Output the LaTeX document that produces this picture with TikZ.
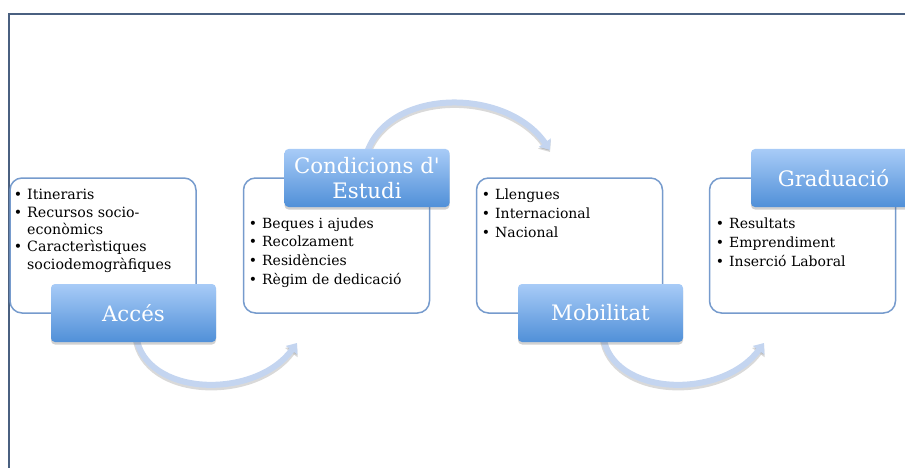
\documentclass[tikz,border=0pt]{standalone}
\usepackage{fontspec}
\newfontfamily\dser{DejaVu Serif}
\usetikzlibrary{arrows.meta,shadows}
\definecolor{framec}{RGB}{74,96,128}
\definecolor{boxline}{RGB}{118,155,205}
\definecolor{labtop}{RGB}{168,203,247}
\definecolor{labbot}{RGB}{80,144,216}
\definecolor{arcc}{RGB}{196,213,240}
\tikzset{
  txtbox/.style={draw=boxline, line width=1.5pt, rounded corners=12pt, fill=white,
    minimum width=186pt, minimum height=135pt, inner sep=0pt},
  labbox/.style={rounded corners=4pt, top color=labtop, bottom color=labbot,
    minimum width=165pt, minimum height=58pt, inner sep=0pt, text=white,
    font=\dser\fontsize{21.3}{25}\selectfont, align=center,
    drop shadow={shadow xshift=0pt, shadow yshift=-2.5pt, opacity=0.3, fill=black!60}},
  body/.style={anchor=base west, inner sep=0pt, font=\dser\fontsize{14}{17}\selectfont},
  bodysm/.style={body, font=\dser\fontsize{14.2}{17}\selectfont},
  flow/.style={arcc, line width=6pt, -{Triangle[width=14pt,length=9pt]}},
  flowshadow/.style={black, opacity=0.15, line width=7pt, -{Triangle[width=15pt,length=9.5pt]},
    transform canvas={yshift=-2pt}},
}
\newcommand\bul{\makebox[0pt][r]{•\hspace{5pt}}}
\begin{document}
\begin{tikzpicture}[x=1pt,y=-1pt]
\useasboundingbox (0,0) rectangle (905,468);
\clip (0,0) rectangle (905,468);
% frame
\draw[framec, line width=2.2pt] (9,470) -- (9,14) -- (906,14);
% text boxes
\node[txtbox] (b1) at (103,245.5) {};
\node[txtbox] (b2) at (336.5,245.5) {};
\node[txtbox] (b3) at (569.5,245.5) {};
\node[txtbox] (b4) at (802.5,245.5) {};
% box texts
\foreach \t [count=\k] in {\bul Itineraris, \bul Recursos socio-, econòmics, \bul Caracterìstiques, sociodemogràfiques}
  \node[bodysm] (ta\k) at (27,{200+(\k-1)*17.3}) {\t};
\foreach \t [count=\k] in {\bul Beques i ajudes, \bul Recolzament, \bul Residències, \bul Règim de dedicació}
  \node[body] (tb\k) at (262,{228+(\k-1)*18.8}) {\t};
\foreach \t [count=\k] in {\bul Llengues, \bul Internacional, \bul Nacional}
  \node[body] (tc\k) at (495,{199+(\k-1)*19}) {\t};
\foreach \t [count=\k] in {\bul Resultats, \bul Emprendiment, \bul Inserció Laboral}
  \node[body] (td\k) at (729,{228+(\k-1)*19}) {\t};
% arc end points
\coordinate (e1) at (297,343);
\coordinate (e2) at (550,150);
\coordinate (e3) at (764,343);
\coordinate (s1) at (136,336);
\coordinate (s2) at (366,156);
\coordinate (s3) at (603,336);
% arcs (shadow + arc)
\draw[flowshadow] (s1) .. controls (145,397) and (255,400) .. (e1);
\draw[flow] (s1) .. controls (145,397) and (255,400) .. (e1);
\draw[flowshadow] (s2) .. controls (385,88) and (505,86) .. (e2);
\draw[flow] (s2) .. controls (385,88) and (505,86) .. (e2);
\draw[flowshadow] (s3) .. controls (612,397) and (722,400) .. (e3);
\draw[flow] (s3) .. controls (612,397) and (722,400) .. (e3);
% labels
\node[labbox] (acc) at (133.5,313) {Accés};
\node[labbox] (cond) at (367,178) {Condicions d'\\Estudi};
\node[labbox] (mob) at (600.5,313) {Mobilitat};
\node[labbox] (grad) at (833.5,178) {Graduació};
\end{tikzpicture}
\end{document}
